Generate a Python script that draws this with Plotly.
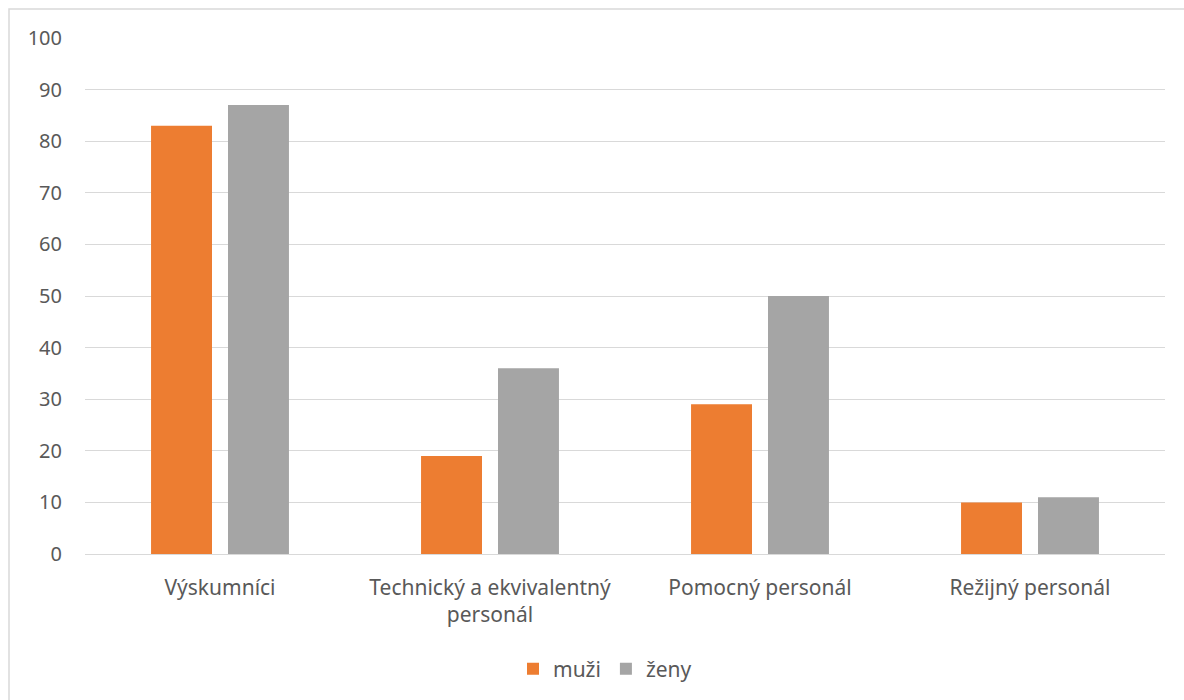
import plotly.graph_objects as go

categories = ["Výskumníci", "Technický a ekvivalentný<br>personál", "Pomocný personál", "Režijný personál"]
muzi = [83, 19, 29, 10]
zeny = [87, 36, 50, 11]
y_ticks = list(range(0, 101, 10))

L, R, T, B = 85, 19, 38, 145
W, H = 1184, 700
pw, ph = W - L - R, H - T - B

fig = go.Figure()
fig.add_trace(go.Bar(x=categories, y=muzi, name="muži", marker=dict(color="#ED7D31", line=dict(width=0))))
fig.add_trace(go.Bar(x=categories, y=zeny, name="ženy", marker=dict(color="#A5A5A5", line=dict(width=0))))

fam = "Noto Sans, Open Sans, sans-serif"
tfont = dict(family=fam, size=20, color="#595959")
cfont = dict(family=fam, size=21, color="#595959")
lfont = dict(family=fam, size=21, color="#595959")
fig.update_layout(
    width=W, height=H,
    margin=dict(l=L, r=R, t=T, b=B),
    paper_bgcolor="white", plot_bgcolor="white",
    barmode="group", bargap=0.43, bargroupgap=0.208,
    font=tfont,
    showlegend=True,
    legend=dict(orientation="h", x=0.5 - 20 / pw, xanchor="center", y=(555 - 669) / ph, yanchor="middle",
                font=lfont, itemwidth=30, traceorder="normal"),
    xaxis=dict(showgrid=False, showline=False, ticks="", tickfont=cfont, tickangle=0,
               ticklabelstandoff=19),
    yaxis=dict(range=[0, 100], tickvals=y_ticks, showgrid=True, gridcolor="#D9D9D9", gridwidth=1,
               zeroline=True, zerolinecolor="#D9D9D9", zerolinewidth=1, showline=False, ticks="",
               tickfont=tfont, ticklabelstandoff=22),
    shapes=[dict(type="rect", xref="paper", yref="paper",
                 x0=(9 - L) / pw, x1=1.2, y0=-0.6, y1=1 + (T - 9) / ph,
                 line=dict(color="#D9D9D9", width=1.5), fillcolor="rgba(0,0,0,0)", layer="below")],
)

fig.write_html("out.html")
